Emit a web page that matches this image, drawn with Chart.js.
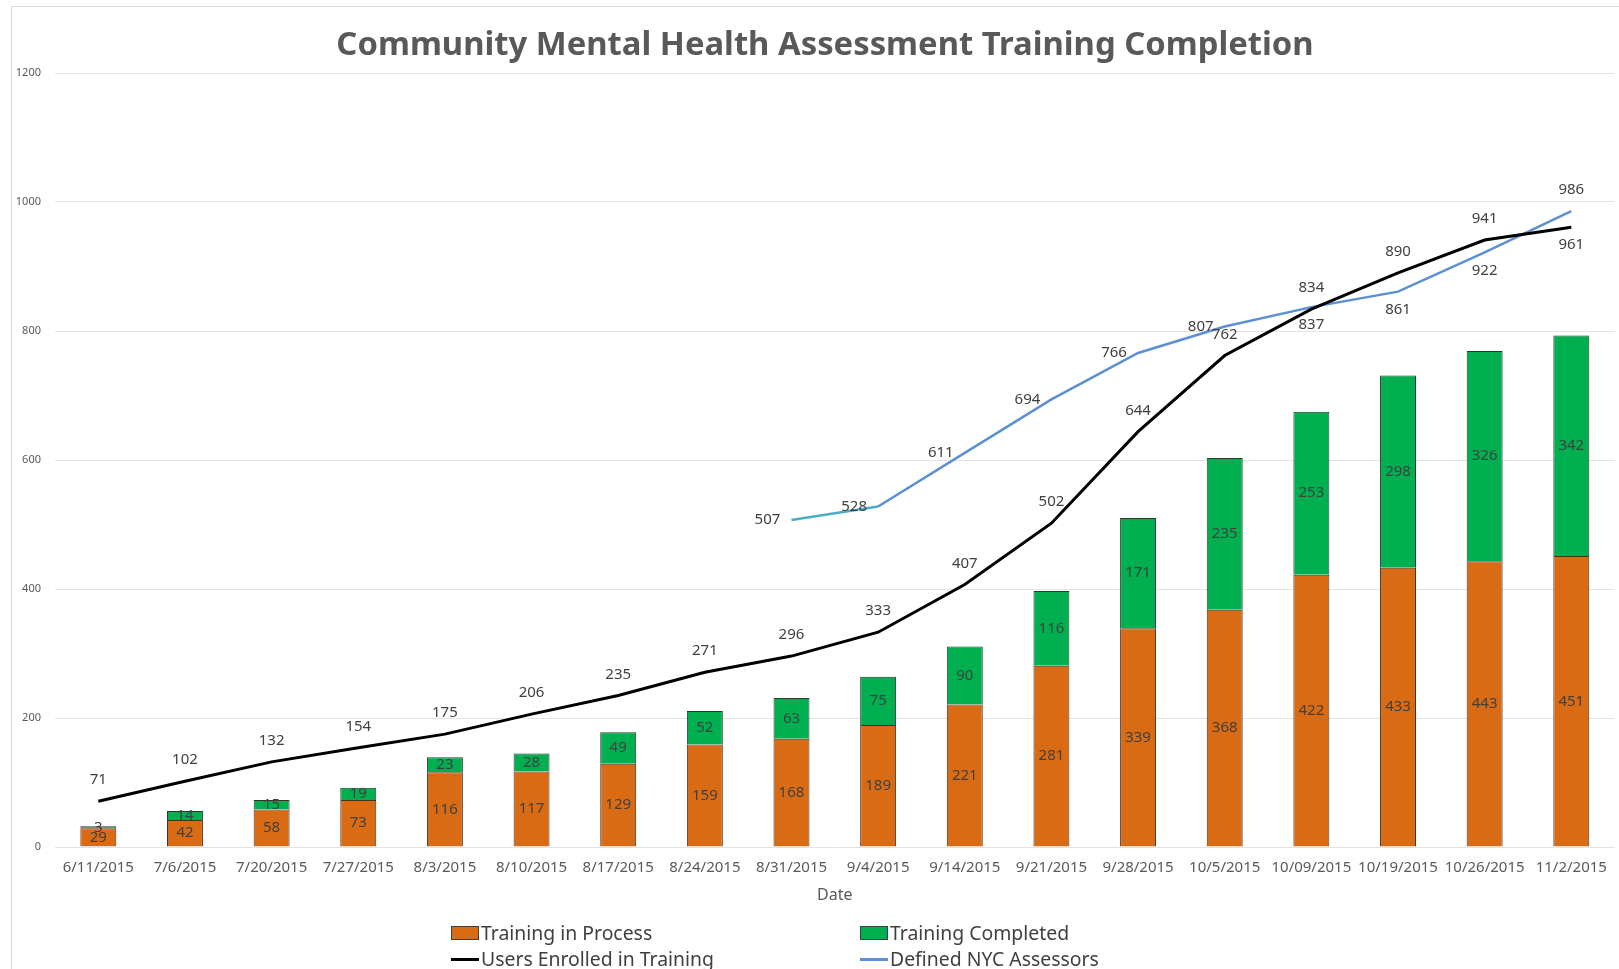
<!DOCTYPE html>
<html><head><meta charset="utf-8">
<script src="https://cdn.jsdelivr.net/npm/chart.js@4/dist/chart.umd.min.js"></script>
<style>
html,body{margin:0;padding:0;background:#fff;width:1619px;height:969px;overflow:hidden;font-family:"Noto Sans",sans-serif;}
#frame{position:absolute;left:11px;top:6px;width:1620px;height:980px;border-left:1px solid #d9d9d9;border-top:1px solid #d9d9d9;}
#wrap{position:absolute;left:0;top:0;width:1619px;height:969px;}
#title{position:absolute;left:21px;width:1608px;top:21px;text-align:center;font-weight:bold;font-size:32.8px;color:#595959;line-height:44px;}
.leg{position:absolute;font-size:19.4px;color:#404040;display:flex;align-items:center;white-space:nowrap;height:24px;line-height:24px}
.sw{display:inline-block;width:28px;height:14px;margin-right:2px;box-sizing:border-box;border:1px solid #404040}
.ln{display:inline-block;width:28px;height:3px;margin-right:2px}
</style></head>
<body>
<div id="frame"></div>
<div id="wrap"><canvas id="c" width="1619" height="969"></canvas></div>
<div id="title">Community Mental Health Assessment Training Completion</div>
<div id="legend"></div>
<script>
const categories = ['6/11/2015','7/6/2015','7/20/2015','7/27/2015','8/3/2015','8/10/2015','8/17/2015','8/24/2015','8/31/2015','9/4/2015','9/14/2015','9/21/2015','9/28/2015','10/5/2015','10/09/2015','10/19/2015','10/26/2015','11/2/2015'];
const trainingInProcess = [29,42,58,73,116,117,129,159,168,189,221,281,339,368,422,433,443,451];
const trainingCompleted = [3,14,15,19,23,28,49,52,63,75,90,116,171,235,253,298,326,342];
const usersEnrolled = [71,102,132,154,175,206,235,271,296,333,407,502,644,762,834,890,941,961];
const nycAssessors = [null,null,null,null,null,null,null,null,507,528,611,694,766,807,837,861,922,986];
const yTicks = [0,200,400,600,800,1000,1200];

// label placement (style, not data)
const enrolledLabelPos = ['above','above','above','above','above','above','above','above','above','above','above','above','above','above','above','above','above','below'];
const assessorLabelPos = [null,null,null,null,null,null,null,null,'left','left','left','left','left','left','below','below','below','above'];

const ORANGE = '#D96B14', GREEN = '#00B050', BLUE = '#5B8FD6', TEAL = '#4BACC6';

const labelPlugin = {
  id: 'vlabels',
  afterDatasetsDraw(chart) {
    const ctx = chart.ctx;
    ctx.save();
    ctx.font = '15px "Noto Sans"';
    ctx.fillStyle = '#404040';
    ctx.textAlign = 'center';
    ctx.textBaseline = 'middle';
    chart.data.datasets.forEach((ds, i) => {
      const meta = chart.getDatasetMeta(i);
      meta.data.forEach((el, j) => {
        const v = ds.data[j];
        if (v == null) return;
        let x, y;
        if (meta.type === 'bar') {
          const p = el.getProps(['x', 'y', 'base'], true);
          x = p.x; y = (p.y + p.base) / 2;
        } else {
          x = el.x; y = el.y;
          const pos = ds.labelPos[j];
          if (pos === 'above') y -= 21;
          else if (pos === 'below') y += 18;
          else if (pos === 'left') x -= 24;
        }
        ctx.fillText(String(v), x, y);
      });
    });
    ctx.restore();
  }
};

const chart = new Chart(document.getElementById('c'), {
  data: {
    labels: categories,
    datasets: [
      { type: 'bar', label: 'Training in Process', data: trainingInProcess, backgroundColor: ORANGE, borderColor: '#4a3020', borderWidth: 1, stack: 'bars', order: 2, barPercentage: 0.415, categoryPercentage: 1 },
      { type: 'bar', label: 'Training Completed', data: trainingCompleted, backgroundColor: GREEN, borderColor: '#2a3a2a', borderWidth: 1, stack: 'bars', order: 2, barPercentage: 0.415, categoryPercentage: 1 },
      { type: 'line', label: 'Users Enrolled in Training', data: usersEnrolled, borderColor: '#000000', borderWidth: 3, pointRadius: 0, tension: 0, fill: false, stack: 'l1', order: 0, labelPos: enrolledLabelPos },
      { type: 'line', label: 'Defined NYC Assessors', data: nycAssessors, borderColor: BLUE, borderWidth: 2.5, pointRadius: 0, tension: 0, fill: false, stack: 'l2', order: 0, labelPos: assessorLabelPos,
        segment: { borderColor: c => c.p0DataIndex === 8 ? TEAL : BLUE } }
    ]
  },
  options: {
    responsive: false,
    animation: false,
    layout: { padding: { left: 11, top: 73, right: 3, bottom: 64 } },
    plugins: { legend: { display: false }, tooltip: { enabled: false }, title: { display: false } },
    scales: {
      x: {
        stacked: true,
        offset: true,
        grid: { display: false, drawTicks: false },
        border: { display: false },
        ticks: { color: '#595959', font: { family: 'Noto Sans', size: 15 }, padding: 12, maxRotation: 0, autoSkip: false },
        title: { display: true, text: 'Date', color: '#595959', font: { family: 'Noto Sans', size: 16 }, padding: { top: 0, bottom: 0 } },
        afterFit: s => { s.height = 58; }
      },
      y: {
        stacked: true,
        min: 0, max: 1200,
        afterBuildTicks: s => { s.ticks = yTicks.map(v => ({ value: v })); },
        grid: { color: '#e3e3e3', lineWidth: 1, drawTicks: false },
        border: { display: false },
        ticks: { color: '#595959', font: { family: 'Noto Sans', size: 11 }, padding: 14, callback: v => String(v) },
        afterFit: s => { s.width = 44; }
      }
    }
  },
  plugins: [labelPlugin]
});

// HTML legend built from the chart's datasets
const legendPos = [[451, 921], [860, 921], [451, 947], [860, 947]];
const leg = document.getElementById('legend');
chart.data.datasets.forEach((ds, i) => {
  const d = document.createElement('div');
  d.className = 'leg';
  d.style.left = legendPos[i][0] + 'px';
  d.style.top = legendPos[i][1] + 'px';
  const s = document.createElement('span');
  if (ds.type === 'bar') { s.className = 'sw'; s.style.background = ds.backgroundColor; }
  else { s.className = 'ln'; s.style.background = i === 3 ? BLUE : ds.borderColor; }
  d.appendChild(s);
  d.appendChild(document.createTextNode(ds.label));
  leg.appendChild(d);
});
</script>
</body></html>
